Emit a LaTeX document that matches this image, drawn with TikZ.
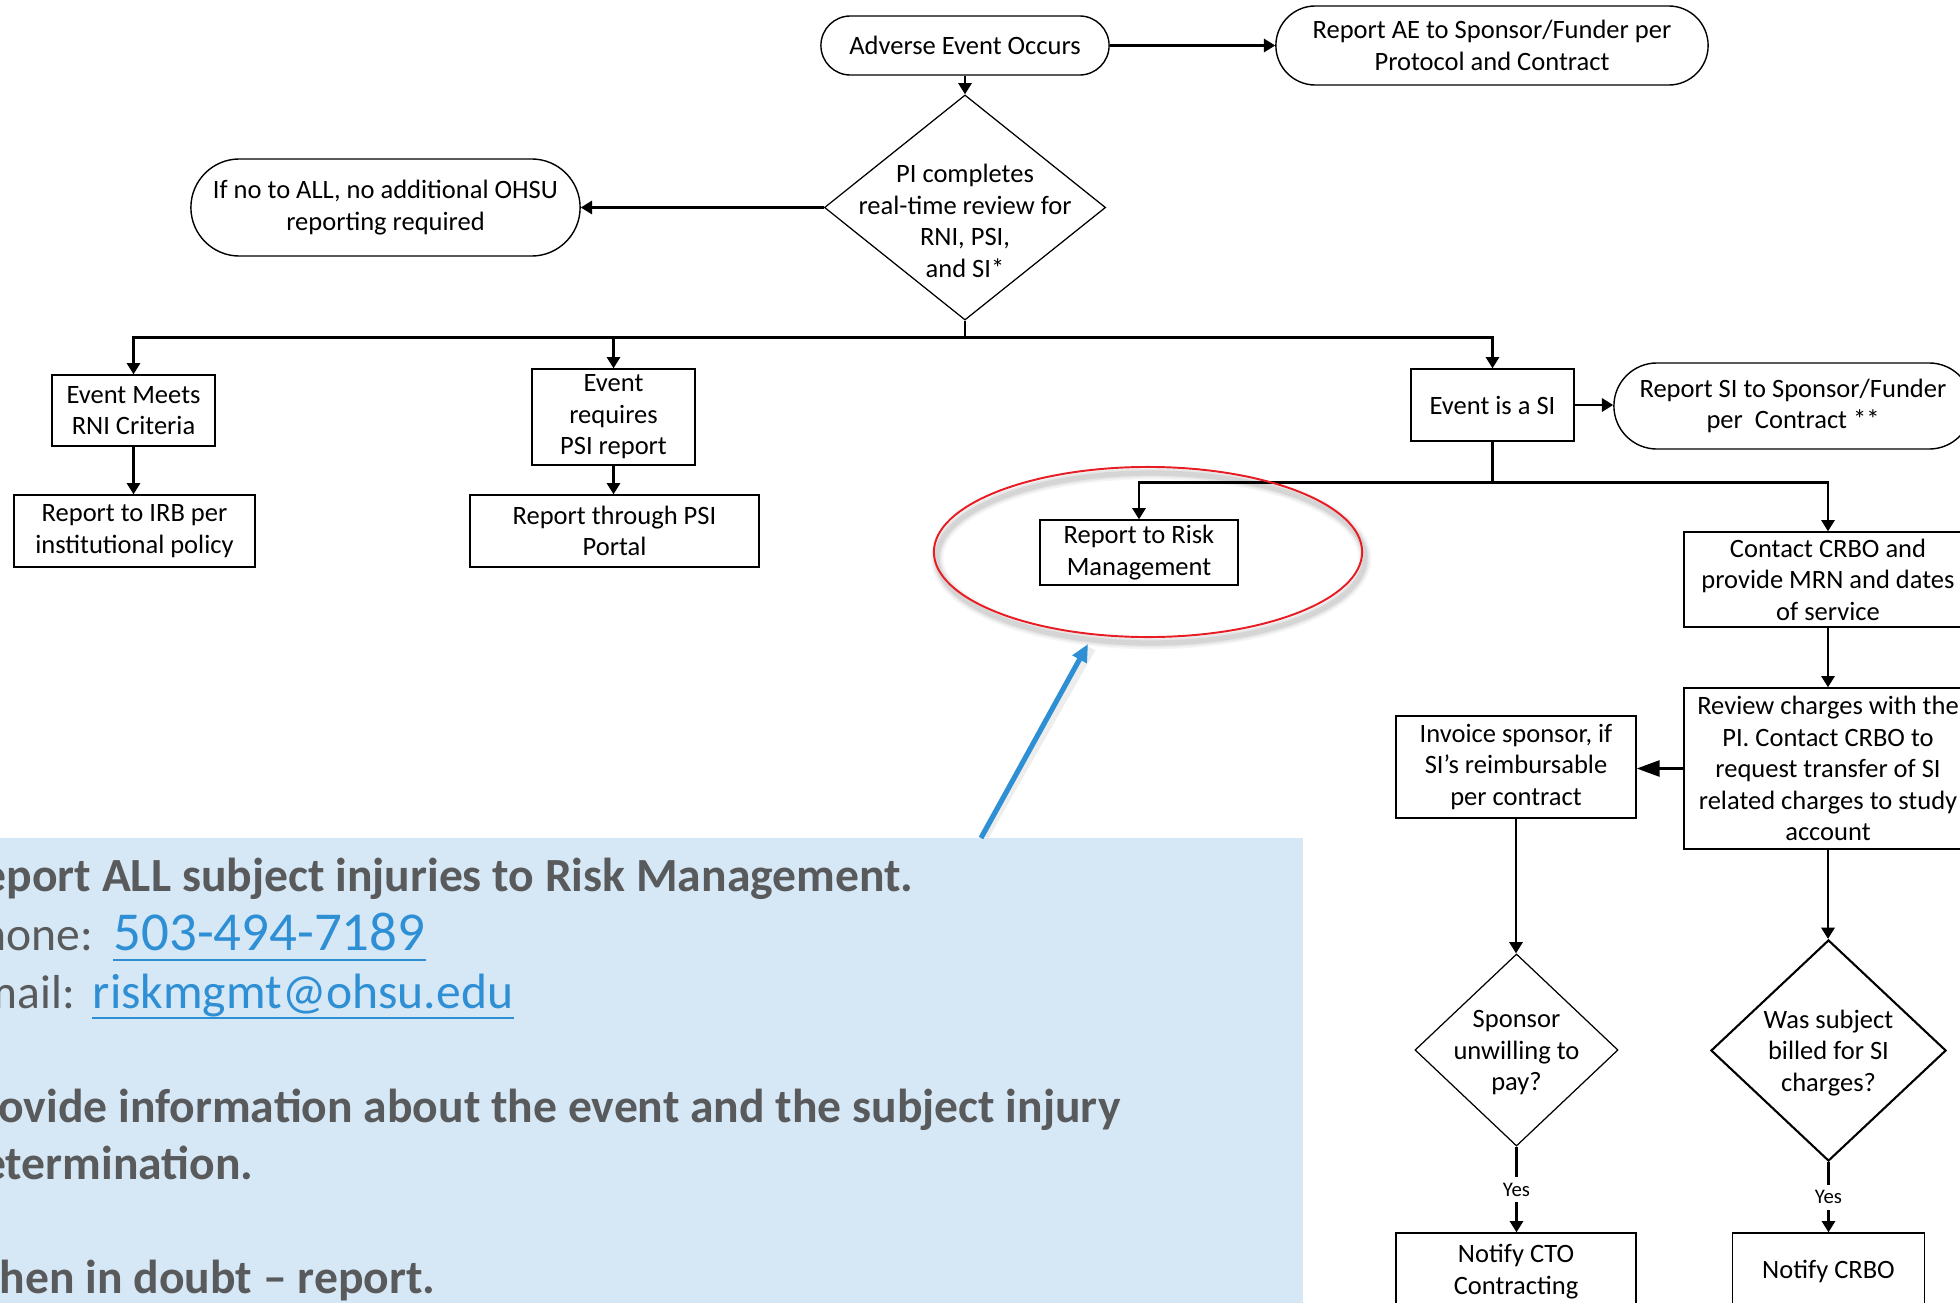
\documentclass[tikz,border=0pt]{standalone}
\usepackage{fontspec}
\setmainfont{Carlito}
\usetikzlibrary{arrows.meta,shapes.geometric,calc}

\definecolor{calloutfill}{RGB}{214,231,245}
\definecolor{calloutgray}{RGB}{89,90,92}
\definecolor{linkblue}{RGB}{46,143,212}
\definecolor{ringred}{RGB}{232,28,36}

\newcommand\chartfont{\fontsize{7.54pt}{8.96pt}\selectfont}
\newcommand\yesfont{\fontsize{5.9pt}{7pt}\selectfont}
\newcommand\notefont{\fontsize{13.54pt}{16pt}\selectfont}
\newcommand\phonefont{\fontsize{15.6pt}{18pt}\selectfont}
\newcommand\mailfont{\fontsize{14.1pt}{17pt}\selectfont}

\begin{document}
\begin{tikzpicture}[x=0.01cm, y=-0.01cm,
  every node/.style={font=\chartfont, align=center, inner sep=0pt},
  box/.style={draw, line width=0.4pt, rectangle},
  stadium/.style={draw, line width=0.4pt, rectangle, rounded corners=#1},
  decision/.style={draw, diamond, line width=0.35pt, inner sep=0pt},
  flow/.style={line width=0.6pt, -{Triangle[length=3.2pt,width=3.8pt]}},
  bigflow/.style={line width=0.6pt, -{Triangle[length=6.5pt,width=4.6pt]}},
  plain/.style={line width=0.6pt},
  yes/.style={fill=white, font=\yesfont, inner sep=1.6pt},
  note/.style={anchor=base west, font=\notefont\bfseries, text=calloutgray},
  notelabel/.style={anchor=base west, font=\notefont, text=calloutgray},
]
\useasboundingbox (0,0) rectangle (1960,1303);
\clip (0,0) rectangle (1960,1303);

% ---- top of the flow ----
\node[stadium=0.295cm, minimum width=2.88cm, minimum height=0.59cm] (adverse) at (965,45.5) {Adverse Event Occurs};
\node[stadium=0.395cm, minimum width=4.32cm, minimum height=0.79cm] (aeReport) at (1492,45.5) {Report AE to Sponsor/Funder per\\Protocol and Contract};

\node[decision, minimum width=2.81cm, minimum height=2.25cm] (review) at (965,207.5) {};
\node (reviewText) at (965,221) {PI completes\\real-time review for\\RNI, PSI,\\and SI*};

\node[stadium=0.485cm, minimum width=3.89cm, minimum height=0.97cm] (noReport) at (385.5,207.5) {If no to ALL, no additional OHSU\\reporting required};

\coordinate (split) at (965,337.5);

% ---- three branches ----
\node[box, minimum width=1.63cm, minimum height=0.71cm] (rni) at (133.5,410.5) {Event Meets\\RNI Criteria};
\node[box, minimum width=2.41cm, minimum height=0.72cm] (irb) at (134.5,531) {Report to IRB per\\institutional policy};
\node[box, minimum width=1.63cm, minimum height=0.96cm] (psi) at (613.5,417) {Event\\requires\\PSI report};
\node[box, minimum width=2.89cm, minimum height=0.72cm] (portal) at (614.5,531) {Report through PSI\\Portal};
\node[box, minimum width=1.63cm, minimum height=0.72cm] (si) at (1492.5,405) {Event is a SI};
\node[stadium=0.43cm, minimum width=3.58cm, minimum height=0.86cm] (siReport) at (1793,406) {Report SI to Sponsor/Funder\\per\ \ Contract **};

\coordinate (siSplit) at (1492.5,482.5);

% ---- subject injury handling ----
\node[box, minimum width=1.98cm, minimum height=0.65cm] (risk) at (1139,552.5) {Report to Risk\\Management};
\node[box, minimum width=2.88cm, minimum height=0.95cm] (crbo) at (1828,579.5) {Contact CRBO and\\provide MRN and dates\\of service};
\node[box, minimum width=2.88cm, minimum height=1.61cm] (charges) at (1828,768.5) {Review charges with the\\PI. Contact CRBO to\\request transfer of SI\\related charges to study\\account};
\node[box, minimum width=2.40cm, minimum height=1.02cm] (invoice) at (1516,767) {Invoice sponsor, if\\SI’s reimbursable\\per contract};

\node[decision, minimum width=2.03cm, minimum height=1.92cm] (unwilling) at (1516.5,1050) {};
\node (unwillingText) at (1516.5,1053) {Sponsor\\unwilling to\\pay?};
\node[decision, line width=0.6pt, minimum width=2.35cm, minimum height=2.21cm] (billed) at (1828.5,1050.5) {};
\node (billedText) at (1828.5,1053) {Was subject\\billed for SI\\charges?};

\node[box, minimum width=2.40cm, minimum height=0.77cm] (cto) at (1516,1271.5) {Notify CTO\\Contracting};
\node[box, minimum width=1.92cm, minimum height=0.77cm] (notifyCrbo) at (1828.5,1271.5) {Notify CRBO};

% ---- connectors ----
\draw[flow] (adverse) -- (aeReport);
\draw[flow] (adverse) -- (review);
\draw[flow] (review) -- (noReport);
\draw[plain] (review.south) -- (split);
\draw[flow] (split) -| (rni.north);
\draw[flow] (split) -| (psi.north);
\draw[flow] (split) -| (si.north);
\draw[flow] (rni.south) -- (rni.south |- irb.north);
\draw[flow] (psi.south) -- (psi.south |- portal.north);
\draw[flow] (si.east) -- (si.east -| siReport.west);
\draw[plain] (si.south) -- (siSplit);
\draw[flow] (siSplit) -| (risk.north);
\draw[flow] (siSplit) -| (crbo.north);
\draw[flow] (crbo) -- (charges);
\draw[bigflow] (charges.west) -- (charges.west -| invoice.east);
\draw[flow] (invoice.south) -- (invoice.south |- unwilling.north);
\draw[flow] (charges.south) -- (charges.south |- billed.north);
\draw[flow] (unwilling.south) -- node[yes] {Yes} (unwilling.south |- cto.north);
\draw[flow] (billed.south) -- node[yes] {Yes} (billed.south |- notifyCrbo.north);

% ---- highlight ring with soft shadow ----
\foreach \w/\o in {3.6pt/0.04, 2.5pt/0.06, 1.5pt/0.08}
  \draw[black, opacity=\o, line width=\w] (1151,558) ellipse [x radius=214, y radius=85];
\node[ellipse, draw=ringred, line width=0.55pt, minimum width=4.28cm, minimum height=1.70cm] (ring) at (1148,552) {};

% ---- callout panel ----
\fill[calloutfill] (0,837.5) rectangle (1302.5,1303);

\coordinate (calloutTop) at (981,838);
\coordinate (ringTip) at (1088,644);
\draw[black, opacity=0.07, line width=2.8pt] ($(calloutTop)+(3,-2)$) -- ($(ringTip)+(3,4)$);
\draw[linkblue, line width=1.45pt, -{Triangle[length=5pt,width=4.4pt]}] (calloutTop) -- (ringTip);

\node[note] (noteA) at (-44,891) {Report ALL subject injuries to Risk Management.};
\node[notelabel] (phoneLabel) at (-44,950) {Phone:};
\node[anchor=base west, font=\phonefont, text=linkblue] (phoneNo) at (113,950) {503-494-7189};
\draw[linkblue, line width=0.75pt] ($(phoneNo.base west)+(0,10)$) -- ($(phoneNo.base east)+(0,10)$);
\node[notelabel] (mailLabel) at (-44,1008) {Email:};
\node[anchor=base west, font=\mailfont, text=linkblue] (mailAddr) at (92,1008) {riskmgmt@ohsu.edu};
\draw[linkblue, line width=0.75pt] ($(mailAddr.base west)+(0,10)$) -- ($(mailAddr.base east)+(0,10)$);
\node[note] (noteB) at (-44,1122) {Provide information about the event and the subject injury};
\node[note] (noteC) at (-44,1179) {determination.};
\node[note] (noteD) at (-44,1293) {When in doubt – report.};
\end{tikzpicture}
\end{document}
